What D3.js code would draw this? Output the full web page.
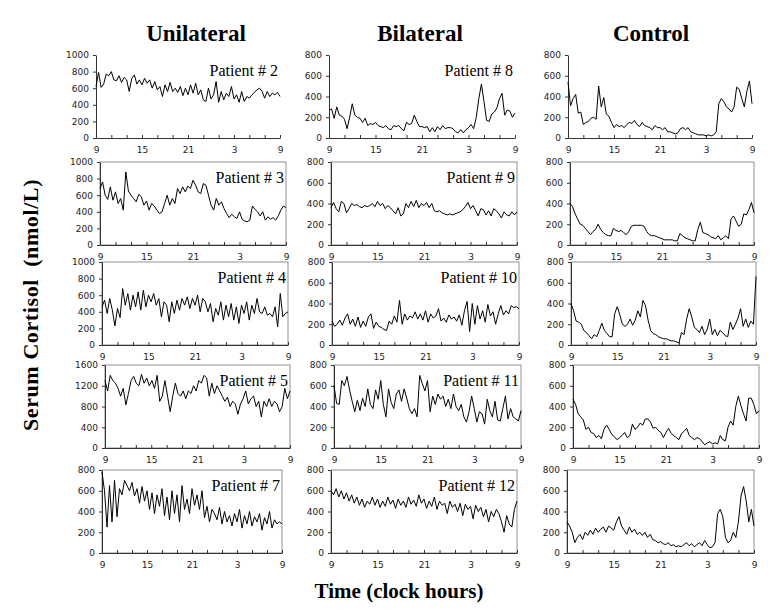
<!DOCTYPE html>
<html><head><meta charset="utf-8">
<script src="https://cdn.jsdelivr.net/npm/d3@7"></script>
<style>body{margin:0;background:#fff}</style>
</head><body><svg id="c" width="779" height="613"></svg>
<script>
// ---- data (samples equally spaced from 09:00 to 09:00 next day) ----
const u2 = [620,790,610,650,770,750,800,700,690,750,670,730,700,560,720,760,650,700,640,720,660,700,600,680,580,620,500,640,560,670,560,600,550,620,510,600,520,640,540,660,520,580,460,440,600,470,520,680,430,560,460,540,500,620,470,520,430,560,440,500,480,520,550,580,600,560,480,560,500,540,520,550,500];
const u3 = [680,760,600,550,700,540,640,500,560,420,880,650,600,560,520,610,580,480,530,420,500,470,420,380,400,500,600,480,560,500,680,620,700,640,710,680,780,720,640,620,740,720,600,480,420,560,480,520,440,380,330,370,340,320,400,310,290,280,300,470,430,400,350,400,300,340,310,330,300,350,420,470,450];
const u4 = [460,540,380,560,420,230,440,330,680,480,620,420,600,460,640,420,660,460,600,520,620,480,560,340,520,480,280,520,380,540,420,560,480,580,440,560,480,600,400,560,520,400,500,280,440,360,520,300,480,340,500,300,460,260,480,380,520,300,480,380,560,400,380,460,360,380,340,460,220,620,340,380,400];
const u5 = [1300,1100,1400,1300,1250,1150,1000,1150,830,1050,1300,1380,1250,1200,1420,1250,1350,1200,1300,1150,1400,900,1000,1300,1000,700,1000,1250,1050,1000,1100,950,1100,1050,1200,1100,1300,1250,1400,1350,1000,1250,1050,1200,1100,1000,900,980,800,900,850,650,850,950,1100,850,950,1000,800,900,600,900,800,950,800,900,850,700,800,1150,950,1100];
const u7 = [780,600,250,650,300,700,350,620,560,700,650,600,680,550,620,480,640,500,600,420,580,380,560,450,620,360,540,320,600,380,560,300,650,420,520,380,620,460,560,420,600,340,450,300,420,380,320,440,280,400,300,360,260,380,300,420,240,360,280,400,260,350,300,380,220,340,280,400,240,320,280,300,280];
const b8 = [270,280,190,300,220,210,180,90,200,330,220,200,190,150,190,120,140,130,150,120,110,100,120,90,80,120,110,120,90,70,150,130,140,220,160,110,110,100,110,60,100,60,110,80,120,90,100,100,90,60,50,80,50,80,100,130,90,200,380,520,350,170,160,230,250,290,380,430,220,270,260,200,240];
const b9 = [360,410,350,320,420,400,310,350,400,380,390,370,360,380,370,380,400,370,420,380,400,350,380,360,330,300,360,280,300,400,360,420,370,430,360,400,380,410,360,400,330,320,330,310,300,290,300,290,300,310,320,340,370,410,350,380,330,280,350,340,290,330,280,350,330,300,260,320,290,280,320,290,320];
const b10 = [230,180,200,240,190,260,300,200,250,180,270,170,230,180,270,300,160,220,180,170,150,140,230,200,280,220,430,200,300,240,280,260,320,250,300,240,330,220,300,260,280,350,230,260,220,290,250,270,230,290,190,330,420,130,400,200,380,250,330,220,390,280,320,200,300,380,290,330,300,380,360,370,350];
const b11 = [600,430,420,650,600,690,560,450,350,460,360,480,400,570,420,380,560,470,650,420,300,570,440,380,520,560,450,570,480,380,330,380,300,700,620,550,650,350,500,420,520,470,500,400,470,380,520,400,360,420,300,250,350,500,380,250,350,330,230,470,360,300,450,270,260,380,500,280,380,300,280,260,360];
const b12 = [600,560,620,540,600,520,580,500,560,480,540,460,520,440,500,470,540,460,520,440,500,450,540,470,510,430,520,460,500,440,540,470,510,450,560,480,520,430,500,450,540,420,500,460,480,380,500,440,470,400,480,360,470,420,450,330,460,400,440,350,420,300,400,350,420,380,300,200,360,280,250,420,500];
const c1 = [540,310,380,420,240,250,130,150,160,190,200,180,500,300,390,230,210,150,100,130,110,120,100,130,150,140,170,130,110,150,120,110,100,80,120,100,100,80,100,60,60,50,40,50,90,100,80,100,60,50,40,30,30,30,20,30,20,30,60,330,380,350,300,280,250,300,490,470,380,300,450,550,330];
const c2 = [400,370,300,250,200,190,160,130,100,130,150,200,150,120,100,90,90,160,140,130,140,120,100,130,180,190,190,190,190,180,130,100,90,90,80,70,60,50,50,50,50,40,40,110,90,70,60,50,40,40,150,220,120,110,100,80,70,60,90,50,70,90,60,250,280,230,180,200,300,290,340,410,310];
const c3 = [400,330,230,220,200,140,120,90,60,100,80,140,210,140,110,80,80,300,370,290,200,180,200,250,190,240,330,270,430,380,240,140,110,100,80,70,60,60,50,40,40,30,20,120,100,250,350,270,170,150,120,180,100,150,250,100,150,90,140,120,90,80,220,150,200,260,350,180,250,170,230,200,660];
const c4 = [470,420,330,300,270,180,200,150,140,100,120,90,180,220,180,130,110,80,100,120,150,100,120,230,180,200,240,220,280,280,250,190,200,170,150,100,150,190,140,120,100,80,140,160,190,120,100,80,100,90,60,30,50,60,40,50,40,120,80,70,200,260,220,400,500,410,330,260,480,480,420,330,360];
const c5 = [300,260,200,100,150,180,130,200,170,220,180,240,200,230,250,200,260,240,220,300,350,260,220,180,250,200,230,180,200,170,200,150,180,130,120,100,110,90,80,100,70,80,60,70,60,80,100,70,90,60,80,100,70,120,80,50,60,100,380,420,350,150,100,120,200,150,300,550,640,500,300,420,260];

const columnTitles = ["Unilateral", "Bilateral", "Control"];
const patientLabels = [
  ["Patient # 2", "Patient # 3", "Patient # 4", "Patient # 5", "Patient # 7"],
  ["Patient # 8", "Patient # 9", "Patient # 10", "Patient # 11", "Patient # 12"],
  [null, null, null, null, null]
];
const seriesByColumn = [[u2, u3, u4, u5, u7], [b8, b9, b10, b11, b12], [c1, c2, c3, c4, c5]];
const yMaxByColumn = [[1000, 1000, 1000, 1600, 800], [800, 800, 800, 800, 800], [800, 800, 800, 800, 800]];
const yStepByColumn = [[200, 200, 200, 400, 200], [200, 200, 200, 200, 200], [200, 200, 200, 200, 200]];
const xTickHours = [0, 2, 4, 6, 8, 10, 12, 14, 16, 18, 20, 22, 24];
const xLabelHours = [0, 6, 12, 18, 24];
const startClock = 9;
const yAxisTitle = "Serum Cortisol  (nmol/L)";
const xAxisTitle = "Time (clock hours)";

// ---- layout ----
const rowTop = [55, 162, 262, 365, 470];
const rowH = 83;
const colLeft = [[96, 329, 568], [100, 331, 570], [102, 332, 571], [105, 334, 573], [102, 331, 567]];
const colRight = [[280, 515, 752], [286, 517, 754], [288, 519, 756], [290, 521, 759], [282, 517, 754]];
const titleX = [196, 420, 651];

const svg = d3.select("#c");
const serif = "'Liberation Serif','Times New Roman',serif";
const sans = "'DejaVu Sans',Verdana,sans-serif";

columnTitles.forEach((t, c) => {
  svg.append("text").attr("x", titleX[c]).attr("y", 41)
    .attr("text-anchor", "middle").attr("font-family", serif)
    .attr("font-weight", "bold").attr("font-size", 23).text(t);
});

for (let c = 0; c < 3; c++) {
  for (let r = 0; r < 5; r++) {
    const data = seriesByColumn[c][r];
    const n = data.length;
    const x0 = colLeft[r][c], x1 = colRight[r][c];
    const y0 = rowTop[r], y1 = rowTop[r] + rowH;
    const x = d3.scaleLinear().domain([0, 24]).range([x0, x1]);
    const y = d3.scaleLinear().domain([0, yMaxByColumn[c][r]]).range([y1, y0]);
    const g = svg.append("g");

    if (r > 0) {
      g.append("rect").attr("x", x0).attr("y", y0).attr("width", x1 - x0).attr("height", y1 - y0)
        .attr("fill", "none").attr("stroke", "#777").attr("stroke-width", 0.8);
    }

    const yt = d3.range(0, yMaxByColumn[c][r] + 1, yStepByColumn[c][r]);
    const ya = g.append("g").attr("transform", `translate(${x0},0)`)
      .call(d3.axisLeft(y).tickValues(yt).tickSize(3).tickSizeOuter(0).tickPadding(4).tickFormat(d3.format("d")));
    const xa = g.append("g").attr("transform", `translate(0,${y1})`)
      .call(d3.axisBottom(x).tickValues(xTickHours).tickSizeInner(-3).tickSizeOuter(0).tickPadding(9)
        .tickFormat(h => xLabelHours.includes(h) ? String((startClock + h) % 24) : ""));
    [ya, xa].forEach(a => {
      a.selectAll("path,line").attr("stroke", "#333");
      a.selectAll("text").attr("font-family", sans).attr("font-size", 9).attr("fill", "#222");
    });

    const line = d3.line().x((d, i) => x(i * 24 / (n - 1))).y(d => y(d));
    g.append("path").datum(data).attr("d", line)
      .attr("fill", "none").attr("stroke", "#000").attr("stroke-width", 1).attr("stroke-linejoin", "round");

    const lab = patientLabels[c][r];
    if (lab) {
      g.append("text").attr("x", x1 - 2).attr("y", y0 + 21).attr("text-anchor", "end")
        .attr("font-family", serif).attr("font-size", 16).text(lab);
    }
  }
}

svg.append("text").attr("transform", "translate(38,305) rotate(-90)")
  .attr("text-anchor", "middle").attr("font-family", serif).attr("font-weight", "bold")
  .attr("font-size", 22).attr("letter-spacing", 0.6).style("white-space", "pre").text(yAxisTitle);
svg.append("text").attr("x", 399).attr("y", 598).attr("text-anchor", "middle")
  .attr("font-family", serif).attr("font-weight", "bold").attr("font-size", 21).text(xAxisTitle);
</script>
</body></html>
